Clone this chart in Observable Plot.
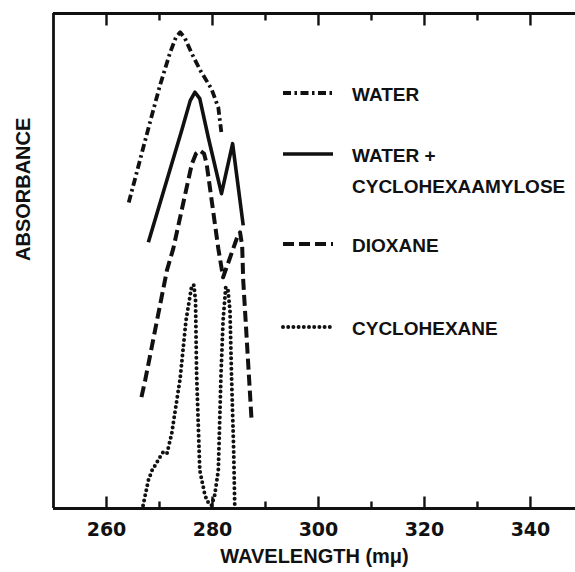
<!DOCTYPE html>
<html><head><meta charset="utf-8">
<script src="https://cdn.jsdelivr.net/npm/d3@7"></script>
<script src="https://cdn.jsdelivr.net/npm/@observablehq/plot@0.6"></script>
<style>
html,body{margin:0;padding:0;background:#fff;}
#wrap{position:relative;width:575px;height:572px;}
#overlay{position:absolute;left:0;top:0;pointer-events:none;}
</style></head><body><div id="wrap"></div>
<script>
// ---- data (wavelength in mμ, absorbance in arbitrary relative units 0-100) ----
const seriesNames = ["WATER", "WATER +\nCYCLOHEXAAMYLOSE", "DIOXANE", "CYCLOHEXANE"];

const waterWl  = [264.2, 266.3, 268.2, 270.1, 272.0, 273.1, 273.9, 274.8, 276.1, 277.7, 279.8, 281.1, 281.7];
const waterAbs = [61.8, 70.3, 78.0, 85.5, 92.1, 95.2, 96.2, 95.0, 91.9, 88.5, 84.8, 81.0, 75.8];

const wcWl  = [267.9, 274.2, 275.8, 276.7, 277.6, 279.2, 281.7, 283.8, 285.8];
const wcAbs = [53.8, 76.4, 82.4, 84.1, 82.8, 75.0, 63.6, 73.7, 57.2];

const dioxWl  = [266.6, 267.3, 271.4, 272.6, 276.1, 276.9, 277.6, 278.4, 278.9, 281.1, 282.0, 284.8, 285.2, 285.6, 285.8, 287.4];
const dioxAbs = [22.5, 25.9, 48.1, 52.5, 69.6, 71.7, 72.3, 71.7, 69.6, 52.5, 46.7, 55.2, 55.8, 53.1, 46.1, 17.4];

const chexWl  = [266.9, 267.9, 268.6, 270.1, 270.7, 271.4, 272.3, 273.9, 275.0, 276.1, 276.5, 276.8, 277.0, 277.6, 278.6, 279.2, 279.8, 280.4, 281.1, 281.6, 282.0, 282.5, 282.9, 283.3, 283.6, 284.0, 284.2];
const chexAbs = [0.6, 5.7, 7.7, 10.4, 11.4, 11.1, 15.1, 26.3, 38.0, 45.1, 45.1, 42.0, 27.3, 7.7, 2.6, 1.2, 0.6, 2.6, 7.7, 26.9, 38.0, 44.7, 44.4, 40.0, 26.5, 11.7, 0.6];

const xMajorTicks = [260, 280, 300, 320, 340];
const xMinorTicks = [270, 290, 310, 330];
const xDomain = [250, 348.5];
const yDomain = [0, 100];
const xLabel = "WAVELENGTH (mμ)";
const yLabel = "ABSORBANCE";

// ---- layout & styles ----
const W = 575, H = 572, MT = 13, MB = 64, ML = 53, MR = 0;
const frameH = H - MT - MB;
const pxToY = px => px * (yDomain[1] - yDomain[0]) / frameH;  // tick length in y units
const styles = [
  {dash: "8,3.5,2.5,3.5", width: 3.8},
  {dash: null, width: 3.6},
  {dash: "11,5", width: 4},
  {dash: "0,5.2", width: 4, cap: "round"}
];
const allWl = [waterWl, wcWl, dioxWl, chexWl];
const allAbs = [waterAbs, wcAbs, dioxAbs, chexAbs];
const series = seriesNames.map((name, i) => ({
  name,
  style: styles[i],
  rows: allWl[i].map((w, j) => ({x: w, y: allAbs[i][j]}))
}));

const TXT = "'Liberation Sans', Arial, sans-serif";
const ink = "#111";

const tickLinks = (vals, len) => [
  Plot.link(vals, {x1: d => d, x2: d => d, y1: yDomain[0], y2: yDomain[0] + pxToY(len), stroke: ink, strokeWidth: 2.4}),
  Plot.link(vals, {x1: d => d, x2: d => d, y1: yDomain[1], y2: yDomain[1] - pxToY(len), stroke: ink, strokeWidth: 2.4})
];

const marks = [
  ...tickLinks(xMajorTicks, 12),
  ...tickLinks(xMinorTicks, 7),
  Plot.ruleY([yDomain[0]], {stroke: ink, strokeWidth: 2.8}),
  Plot.ruleY([yDomain[1]], {stroke: ink, strokeWidth: 2.8}),
  Plot.ruleX([xDomain[0]], {stroke: ink, strokeWidth: 2.8}),
  Plot.axisX(xMajorTicks, {anchor: "bottom", tickSize: 0, tickPadding: 14, label: null, fontSize: 19, fontWeight: "bold", fontFamily: "'DejaVu Sans', sans-serif", fill: ink}),
  Plot.text([xLabel], {frameAnchor: "bottom", dy: 54, fontSize: 20, fontWeight: "bold", fontFamily: TXT, fill: ink}),
  Plot.text([yLabel], {frameAnchor: "left", rotate: -90, dx: -30, fontSize: 20, fontWeight: "bold", fontFamily: TXT, fill: ink}),
  ...series.map(s => Plot.line(s.rows, {
    x: "x", y: "y", stroke: ink, strokeWidth: s.style.width,
    strokeDasharray: s.style.dash, strokeLinecap: s.style.cap || "butt", strokeLinejoin: "round"
  }))
];

const chart = Plot.plot({
  width: W, height: H,
  marginLeft: ML, marginRight: MR, marginTop: MT, marginBottom: MB,
  x: {domain: xDomain, axis: null},
  y: {domain: yDomain, axis: null},
  style: {background: "#fff", color: ink, fontFamily: TXT},
  marks
});
document.getElementById("wrap").appendChild(chart);

// ---- legend overlay (inside plot area, top right) ----
const svg = d3.select("#wrap").append("svg")
  .attr("id", "overlay").attr("width", W).attr("height", H);
const legY = [93, 154, 244, 327];
const lineH = 31.5;
series.forEach((s, i) => {
  const g = svg.append("g").attr("transform", `translate(0,${legY[i]})`);
  g.append("line").attr("x1", 283).attr("x2", 333).attr("y1", 0).attr("y2", 0)
    .attr("stroke", ink).attr("stroke-width", s.style.width)
    .attr("stroke-dasharray", s.style.dash).attr("stroke-linecap", s.style.cap || "butt");
  s.name.split("\n").forEach((ln, k) => {
    g.append("text").attr("x", 352).attr("y", 7.5 + k * lineH)
      .attr("font-family", TXT).attr("font-size", 19).attr("font-weight", "bold")
      .attr("fill", ink).text(ln);
  });
});
</script></body></html>
